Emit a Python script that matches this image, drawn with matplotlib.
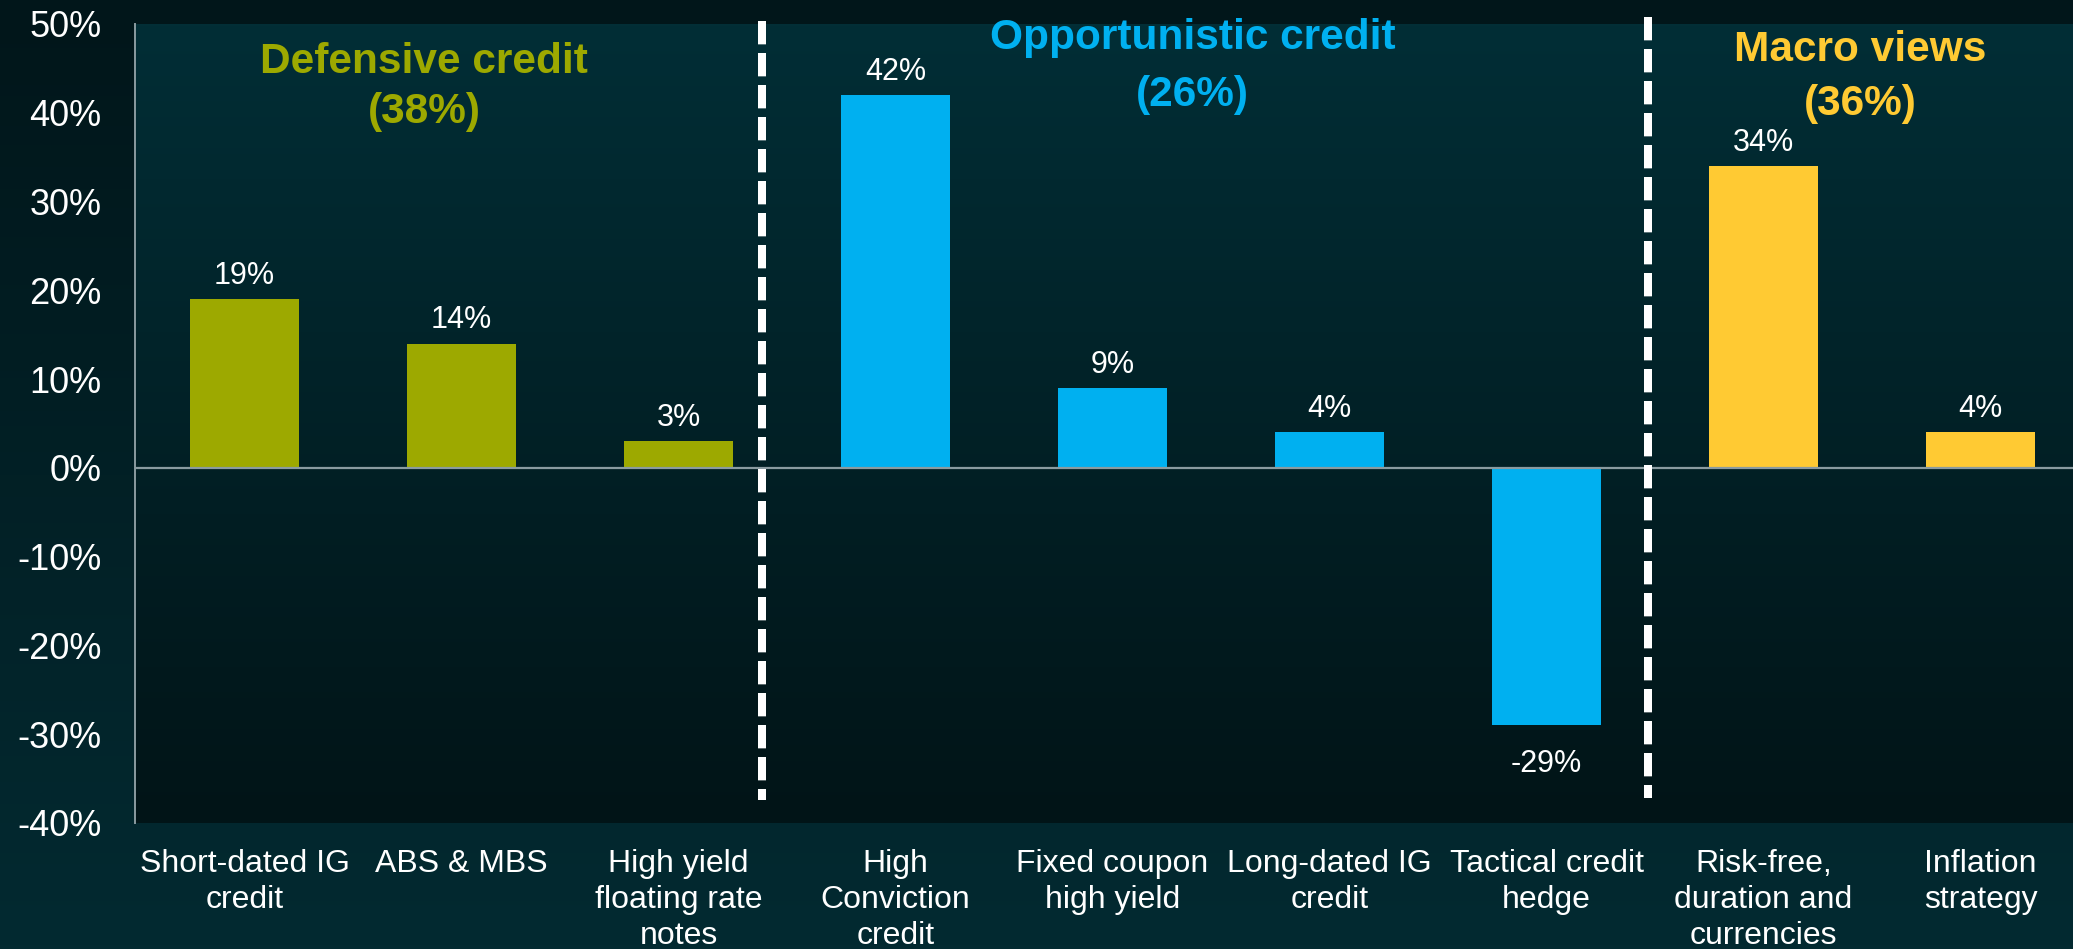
import numpy as np
import matplotlib
matplotlib.use("Agg")
import matplotlib.pyplot as plt
from matplotlib.colors import LinearSegmentedColormap

plt.rcParams['font.family'] = ['Liberation Sans', 'DejaVu Sans']

# ---- data ----
categories = [
    "Short-dated IG\ncredit", "ABS & MBS", "High yield\nfloating rate\nnotes",
    "High\nConviction\ncredit", "Fixed coupon\nhigh yield", "Long-dated IG\ncredit",
    "Tactical credit\nhedge", "Risk-free,\nduration and\ncurrencies", "Inflation\nstrategy",
]
weights = [19, 14, 3, 42, 9, 4, -29, 34, 4]
group_of_bar = [0, 0, 0, 1, 1, 1, 1, 2, 2]
group_names = ["Defensive credit", "Opportunistic credit", "Macro views"]
group_totals = [38, 26, 36]
y_ticks = [-40, -30, -20, -10, 0, 10, 20, 30, 40, 50]

# ---- styling ----
group_colors = ["#9DA900", "#00B0F0", "#FFCA33"]
W, H = 2073, 949
fig = plt.figure(figsize=(W / 100, H / 100), dpi=100)

# figure background: dark at the top, teal at the bottom
grad = np.linspace(0, 1, 256).reshape(-1, 1)
bg = fig.add_axes([0, 0, 1, 1], zorder=-10)
bg.axis('off')
bg.imshow(grad, aspect='auto', origin='lower', extent=[0, 1, 0, 1],
          cmap=LinearSegmentedColormap.from_list('figbg', ['#032a31', '#01161a']))

ax = fig.add_axes([135 / W, (H - 823) / H, 1 - 135 / W, (823 - 24) / H])
ax.patch.set_alpha(0)
# plot area: teal at the top fading to near black at the bottom
ax.imshow(grad, aspect='auto', origin='lower', extent=[0, 1, 0, 1],
          transform=ax.transAxes, zorder=0,
          cmap=LinearSegmentedColormap.from_list('axbg', ['#011417', '#022e36']))

x = np.arange(len(categories))
colors = [group_colors[g] for g in group_of_bar]
bars = ax.bar(x, weights, width=0.5, color=colors, zorder=2)

ax.set_xlim(-0.505, 8.426)
ax.set_ylim(-40, 50)

# value labels
for xi, v in zip(x, weights):
    if v >= 0:
        ax.annotate(f"{v}%", (xi, v), xytext=(0, 6), textcoords='offset points',
                    ha='center', va='bottom', color='white', fontsize=22, zorder=4)
    else:
        ax.annotate(f"{v}%", (xi, v), xytext=(0, -17), textcoords='offset points',
                    ha='center', va='top', color='white', fontsize=22, zorder=4)

# zero line
ax.axhline(0, color='#8a9ba0', lw=1.6, zorder=3)

# group dividers
for xd, (top, bot) in zip([2.383, 6.466], [(50.37, -37.44), (50.82, -37.16)]):
    ax.plot([xd, xd], [top, bot], color='white', lw=5.76, dashes=(2.92, 1.08),
            solid_capstyle='butt', dash_capstyle='butt', clip_on=False, zorder=5)

# group headings: name on the first line, share on the second
heading_pos = [(0.827, 44.5, 38.8), (4.37, 47.2, 40.8), (7.445, 45.8, 39.8)]
for name, total, color, (gx, y1, y2) in zip(group_names, group_totals,
                                            group_colors, heading_pos):
    ax.text(gx, y1, name, ha='center', va='baseline', color=color,
            fontsize=30.5, fontweight='bold', zorder=6, clip_on=False)
    ax.text(gx, y2, f"({total}%)", ha='center', va='baseline', color=color,
            fontsize=30.5, fontweight='bold', zorder=6, clip_on=False)

# axes styling
for s in ['top', 'right', 'bottom']:
    ax.spines[s].set_visible(False)
ax.spines['left'].set_color('#8a9ba0')
ax.spines['left'].set_linewidth(1.4)
ax.spines['left'].set_zorder(3)

ax.set_yticks(y_ticks)
ax.set_yticklabels([f"{t}%" for t in y_ticks])
ax.tick_params(axis='y', length=0, pad=24, labelsize=26, labelcolor='white')
ax.set_xticks(x)
ax.set_xticklabels(categories, linespacing=1.25)
ax.tick_params(axis='x', length=0, pad=19, labelsize=23, labelcolor='white')

fig.savefig("out.png", dpi=100)
